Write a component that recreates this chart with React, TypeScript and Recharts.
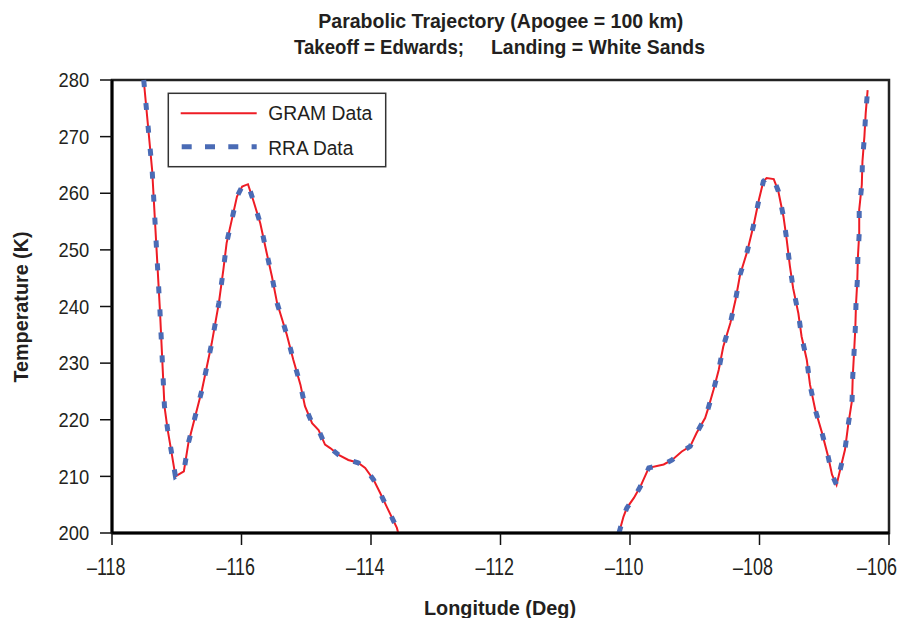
import React from 'react';
import { LineChart, Line, XAxis, YAxis, ReferenceArea } from 'recharts';

// Longitude (deg); null temperature = gap where the curve is below 200 K
const longitude = [
  -117.51, -117.38, -117.26, -117.19, -117.14, -117.07, -117.02, -116.89, -116.82, -116.61,
  -116.46, -116.35, -116.28, -116.23, -116.15, -116.07, -115.99, -115.9, -115.82, -115.71,
  -115.61, -115.53, -115.45, -115.3, -115.2, -115.09, -115.02, -114.91, -114.81, -114.71,
  -114.63, -114.5, -114.35, -114.2, -114.09, -113.96, -113.86, -113.76, -113.6, -113.58,
  -112,
  -110.17, -110.1, -110.05, -109.94, -109.84, -109.71, -109.48, -109.35, -109.2, -109.07,
  -108.97, -108.84, -108.79, -108.71, -108.63, -108.56, -108.45, -108.37, -108.3, -108.19,
  -108.09, -108.01, -107.94, -107.89, -107.78, -107.71, -107.63, -107.58, -107.53, -107.48,
  -107.4, -107.35, -107.27, -107.22, -107.14, -107.04, -106.94, -106.88, -106.81, -106.76,
  -106.68, -106.63, -106.57, -106.56, -106.54, -106.52, -106.51, -106.49, -106.48, -106.46,
  -106.46, -106.42, -106.41, -106.38, -106.36, -106.33,
];

const gramTemp = [
  280.0, 264.1, 239.4, 222.4, 218.2, 213.5, 210.0, 210.9, 215.9, 225.3,
  233.5, 240.6, 246.5, 251.2, 255.3, 259.4, 261.2, 261.6, 258.8, 254.7,
  249.4, 245.3, 240.6, 235.0, 230.6, 226.2, 222.4, 219.4, 218.2, 215.6,
  215.0, 213.8, 212.9, 212.4, 211.5, 209.4, 207.1, 204.7, 200.9, 200.0,
  null,
  200.0, 202.9, 204.4, 206.2, 208.2, 211.5, 212.1, 212.9, 214.4, 215.3,
  217.7, 220.3, 222.1, 225.3, 228.8, 232.9, 237.1, 241.2, 245.6, 249.7,
  254.4, 258.8, 262.1, 262.7, 262.5, 260.4, 255.9, 251.8, 247.1, 243.2,
  238.8, 234.7, 230.6, 226.2, 221.8, 217.9, 213.5, 210.3, 208.5, 210.9,
  214.7, 219.1, 223.5, 227.6, 231.8, 236.2, 240.3, 244.4, 248.8, 252.9,
  257.1, 261.5, 265.6, 270.0, 274.1, 278.2,
];

const rraTemp = [
  280.0, 264.1, 239.4, 222.4, 218.2, 213.5, 210.0, 210.9, 215.9, 225.3,
  233.5, 240.6, 246.5, 251.2, 255.3, 259.4, 261.2, 261.6, 258.8, 254.7,
  249.4, 245.3, 240.6, 235.0, 230.6, 226.2, 222.4, 219.4, 218.2, 215.6,
  215.0, 213.8, 212.9, 212.4, 211.5, 209.4, 207.1, 204.7, 200.9, 200.0,
  null,
  200.0, 202.9, 204.4, 206.2, 208.2, 211.5, 212.1, 212.9, 214.4, 215.3,
  217.7, 220.3, 222.1, 225.3, 228.8, 232.9, 237.1, 241.2, 245.6, 249.7,
  254.4, 258.8, 262.1, 262.7, 262.5, 260.4, 255.9, 251.8, 247.1, 243.2,
  238.8, 234.7, 230.6, 226.2, 221.8, 217.9, 213.5, 210.3, 208.5, 210.9,
  214.7, 219.1, 223.5, 227.6, 231.8, 236.2, 240.3, 244.4, 248.8, 252.9,
  257.1, 261.5, 265.6, 270.0, 274.1, 278.2,
];

const xTicks = [-118, -116, -114, -112, -110, -108, -106];
const yTicks = [200, 210, 220, 230, 240, 250, 260, 270, 280];

const titleLine1 = 'Parabolic Trajectory (Apogee = 100 km)';
const titleLine2a = 'Takeoff = Edwards;';
const titleLine2b = 'Landing = White Sands';
const xAxisTitle = 'Longitude (Deg)';
const yAxisTitle = 'Temperature (K)';
const seriesNames = ['GRAM Data', 'RRA Data'];

const data = longitude.map((lon, i) => ({ lon, gram: gramTemp[i], rra: rraTemp[i] }));

const FONT = '"Liberation Sans", Arial, Helvetica, sans-serif';
const RED = '#EE1C25';
const BLUE = '#4A6BB5';
const INK = '#231F20';

const XTick = (props: any) => {
  const { x, y, payload } = props;
  const v = payload.value as number;
  const s = v < 0 ? '\u2013' + Math.abs(v) : String(v);
  const sx = 0.78;
  // digits centred on the tick (the minus hangs left); last label kept inside the page
  const half = v === xTicks[xTicks.length - 1] ? 8 : 13.5;
  return (
    <g transform={`translate(${x + half},${y + 30})`}>
      <text transform={`scale(${sx},1)`} textAnchor="end" fontFamily={FONT} fontSize={23} fill={INK}>
        {s}
      </text>
    </g>
  );
};

const YTick = (props: any) => {
  const { x, y, payload } = props;
  return (
    <g transform={`translate(${x - 10.7},${y + 7.2})`}>
      <text transform="scale(0.92,1)" textAnchor="end" fontFamily={FONT} fontSize={20} fill={INK}>
        {String(payload.value)}
      </text>
    </g>
  );
};

export default function App() {
  return (
    <div style={{ position: 'relative', width: 898, height: 610 }}>
      <LineChart
        width={898}
        height={610}
        data={data}
        margin={{ top: 72, right: 17, bottom: 0, left: 0 }}
      >
        <XAxis
          dataKey="lon"
          type="number"
          domain={[-118, -106]}
          ticks={xTicks}
          interval={0}
          height={85}
          tickSize={12}
          tickMargin={0}
          axisLine={{ stroke: '#000', strokeWidth: 3 }}
          tickLine={{ stroke: '#111', strokeWidth: 1.5 }}
          tick={<XTick />}
        />
        <YAxis
          type="number"
          domain={[200, 280]}
          ticks={yTicks}
          interval={0}
          width={104}
          tickSize={12}
          tickMargin={0}
          axisLine={{ stroke: '#000', strokeWidth: 3 }}
          tickLine={{ stroke: '#111', strokeWidth: 1.5 }}
          tick={<YTick />}
        />
        <ReferenceArea x1={-118} x2={-106} y1={200} y2={280} fill="none" stroke="#222" strokeWidth={2.5} />
        <Line
          type="linear"
          dataKey="gram"
          name={seriesNames[0]}
          stroke={RED}
          strokeWidth={2}
          dot={false}
          activeDot={false}
          isAnimationActive={false}
        />
        <Line
          type="linear"
          dataKey="rra"
          name={seriesNames[1]}
          stroke={BLUE}
          strokeWidth={5}
          strokeDasharray="7 16"
          dot={false}
          activeDot={false}
          isAnimationActive={false}
        />
      </LineChart>
      <svg
        width={898}
        height={610}
        style={{ position: 'absolute', left: 0, top: 0, overflow: 'visible', pointerEvents: 'none' }}
      >
        <text x={310.3} y={19.7} fontFamily={FONT} fontWeight="bold" fontSize={21} fill={INK}
          textLength={365} lengthAdjust="spacingAndGlyphs">{titleLine1}</text>
        <text x={286} y={46} fontFamily={FONT} fontWeight="bold" fontSize={21} fill={INK}
          textLength={170} lengthAdjust="spacingAndGlyphs">{titleLine2a}</text>
        <text x={483} y={46} fontFamily={FONT} fontWeight="bold" fontSize={21} fill={INK}
          textLength={214} lengthAdjust="spacingAndGlyphs">{titleLine2b}</text>
        <text x={492} y={607} textAnchor="middle" fontFamily={FONT} fontWeight="bold" fontSize={21} fill={INK}
          textLength={152} lengthAdjust="spacingAndGlyphs">{xAxisTitle}</text>
        <text transform="translate(20,299) rotate(-90)" x={0} y={0} textAnchor="middle" fontFamily={FONT}
          fontWeight="bold" fontSize={21} fill={INK} textLength={151} lengthAdjust="spacingAndGlyphs">{yAxisTitle}</text>
        <rect x={160.3} y={85.3} width={217.4} height={73.4} fill="#fff" stroke="#333" strokeWidth={1.5} />
        <line x1={172.7} x2={248.7} y1={105.3} y2={105.3} stroke={RED} strokeWidth={2} />
        <text x={260.3} y={112} fontFamily={FONT} fontSize={20} fill={INK}
          textLength={104} lengthAdjust="spacingAndGlyphs">{seriesNames[0]}</text>
        <line x1={173.7} x2={248.7} y1={138.7} y2={138.7} stroke={BLUE} strokeWidth={5} strokeDasharray="10 13.3" />
        <text x={260.3} y={147} fontFamily={FONT} fontSize={20} fill={INK}
          textLength={85} lengthAdjust="spacingAndGlyphs">{seriesNames[1]}</text>
      </svg>
    </div>
  );
}
